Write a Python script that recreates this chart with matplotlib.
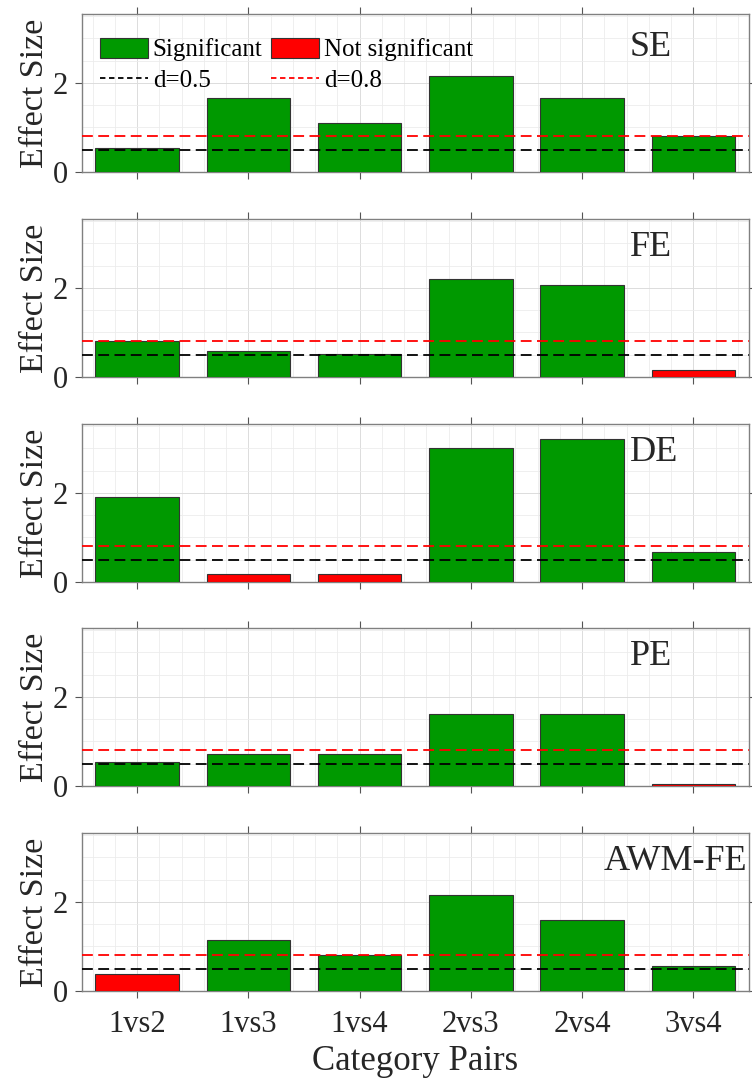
import numpy as np
import matplotlib
matplotlib.use('Agg')
import matplotlib.pyplot as plt
from matplotlib.patches import Patch
from matplotlib.lines import Line2D
from matplotlib.ticker import MultipleLocator

plt.rcParams['font.family'] = ['Liberation Serif', 'DejaVu Serif']

# category pairs on the x axis
pairs = ['1vs2', '1vs3', '1vs4', '2vs3', '2vs4', '3vs4']

# effect sizes per measure
se_vals = [0.53, 1.66, 1.11, 2.16, 1.66, 0.81]
fe_vals = [0.80, 0.59, 0.52, 2.21, 2.06, 0.16]
de_vals = [1.91, 0.19, 0.18, 3.01, 3.22, 0.67]
pe_vals = [0.54, 0.73, 0.71, 1.62, 1.62, 0.05]
awm_vals = [0.38, 1.15, 0.80, 2.16, 1.60, 0.57]

# significance flags (1 = significant)
se_sig = [1, 1, 1, 1, 1, 1]
fe_sig = [1, 1, 1, 1, 1, 0]
de_sig = [1, 0, 0, 1, 1, 1]
pe_sig = [1, 1, 1, 1, 1, 0]
awm_sig = [0, 1, 1, 1, 1, 1]

titles = ['SE', 'FE', 'DE', 'PE', 'AWM-FE']
title_x = [5.43, 5.43, 5.43, 5.43, 5.19]
title_y = [2.8, 2.9, 2.9, 2.9, 2.9]
all_vals = [se_vals, fe_vals, de_vals, pe_vals, awm_vals]
all_sig = [se_sig, fe_sig, de_sig, pe_sig, awm_sig]

GREEN = '#009900'
RED = '#ff0000'
W, H = 752, 1079

fig = plt.figure(figsize=(W / 100, H / 100), dpi=100)
x = np.arange(1, len(pairs) + 1)

tops = [14, 219, 424, 628, 833]
ax_h = 158
left, right = 81.5, 749

for i, (vals, sig) in enumerate(zip(all_vals, all_sig)):
    ax = fig.add_axes([left / W, 1 - (tops[i] + ax_h) / H, (right - left) / W, ax_h / H])
    colors = [GREEN if s else RED for s in sig]
    ax.bar(x, vals, width=0.75, color=colors, edgecolor='#333333', linewidth=0.8, zorder=3)
    ax.axhline(0.5, color='k', ls=(0, (6, 3)), lw=1.3, zorder=4)
    ax.axhline(0.8, color='r', ls=(0, (6, 3)), lw=1.3, zorder=4)

    ax.set_xlim(0.5, 6.5)
    ax.set_ylim(0, 3.55)
    ax.set_xticks(x)
    ax.set_yticks([0, 2])
    ax.xaxis.set_minor_locator(MultipleLocator(0.2))
    ax.yaxis.set_minor_locator(MultipleLocator(0.5))
    ax.grid(which='major', color='#dcdcdc', lw=0.7, zorder=0)
    ax.grid(which='minor', color='#ececec', lw=0.6, zorder=0)
    ax.set_axisbelow(True)
    ax.tick_params(which='major', direction='out', length=5, width=0.8,
                   color='#555555', labelsize=22, labelcolor='#262626',
                   top=True, right=True, pad=5)
    ax.tick_params(axis='x', which='major', pad=9)
    ax.tick_params(which='minor', length=0)
    for sp in ax.spines.values():
        sp.set_color('#808080')
        sp.set_linewidth(1.0)

    if i < 4:
        ax.set_xticklabels([])
    else:
        ax.set_xticklabels(pairs)
        ax.set_xlabel('Category Pairs', fontsize=25, color='#262626', labelpad=4)
    ax.set_ylabel('Effect Size', fontsize=24.5, color='#262626', labelpad=2)
    ax.text(title_x[i], title_y[i], titles[i], fontsize=26, color='#262626',
            ha='left', va='center', zorder=5)

    if i == 0:
        handles = [Patch(facecolor=GREEN, edgecolor='#333333', lw=0.8),
                   Line2D([], [], color='k', ls=(0, (3, 2)), lw=1.3),
                   Patch(facecolor=RED, edgecolor='#333333', lw=0.8),
                   Line2D([], [], color='r', ls=(0, (3, 2)), lw=1.3)]
        labels = ['Significant', 'd=0.5', 'Not significant', 'd=0.8']
        ax.legend(handles, labels, ncol=2, loc='upper left',
                  bbox_to_anchor=(0.028, 0.85), frameon=False, fontsize=18,
                  handlelength=1.9, handleheight=0.85, handletextpad=0.2,
                  columnspacing=0.35, labelspacing=0.3, borderpad=0,
                  borderaxespad=0)

fig.savefig('out.png', dpi=100)
